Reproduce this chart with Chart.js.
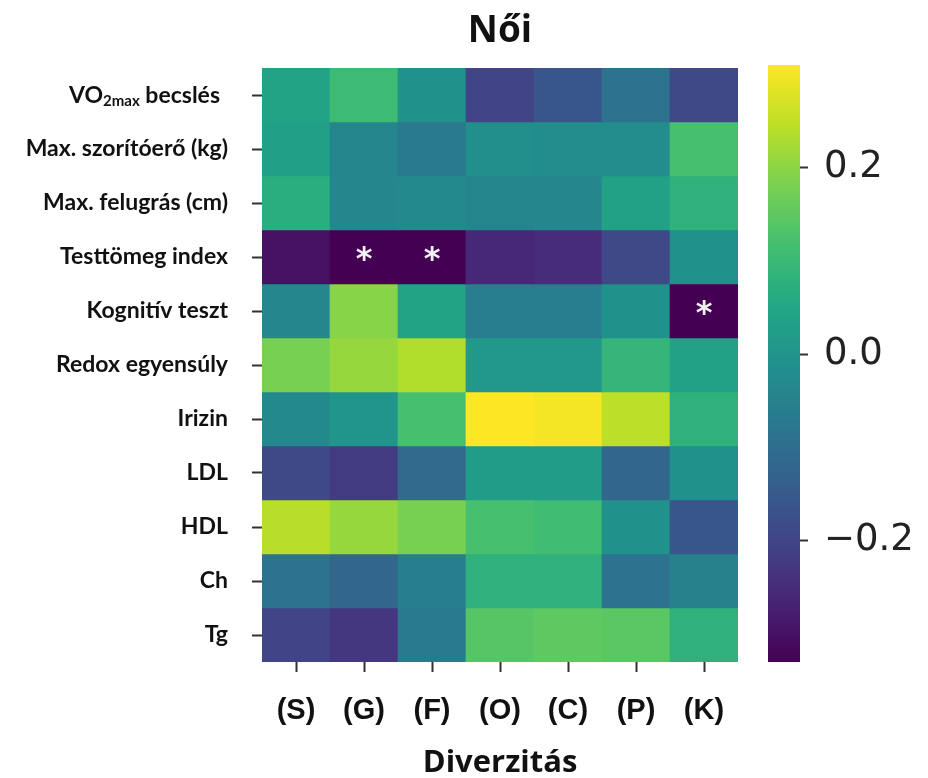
<!DOCTYPE html>
<html>
<head>
<meta charset="utf-8">
<script src="https://cdn.jsdelivr.net/npm/chart.js@4.4.1/dist/chart.umd.min.js"></script>
<style>
  html, body { margin: 0; padding: 0; background: #fff; overflow: hidden; }
  #wrap { position: relative; width: 928px; height: 778px; overflow: hidden; }
  #heat-box { position: absolute; left: 0; top: 0; width: 752px; height: 786px; }
  #bar-box { position: absolute; left: 755px; top: 0; width: 173px; height: 778px; }
</style>
</head>
<body>
<div id="wrap">
  <div id="heat-box"><canvas id="heat"></canvas></div>
  <div id="bar-box"><canvas id="cbar"></canvas></div>
</div>
<script>
const columns = ["(S)", "(G)", "(F)", "(O)", "(C)", "(P)", "(K)"];
const rows = ["VO2max becslés", "Max. szorítóerő (kg)", "Max. felugrás (cm)", "Testtömeg index",
  "Kognitív teszt", "Redox egyensúly", "Irizin", "LDL", "HDL", "Ch", "Tg"];

// correlation values, one array per row, columns S G F O C P K
const vo2max    = [0.04, 0.105, -0.01, -0.20, -0.16, -0.09, -0.19];
const szorito   = [0.03, -0.04, -0.07, -0.016, -0.02, -0.02, 0.12];
const felugras  = [0.07, -0.035, -0.03, -0.04, -0.035, 0.035, 0.08];
const bmi       = [-0.30, -0.33, -0.33, -0.26, -0.25, -0.19, -0.01];
const kognitiv  = [-0.035, 0.195, 0.04, -0.06, -0.06, -0.01, -0.33];
const redox     = [0.18, 0.21, 0.235, 0.01, 0.01, 0.09, 0.035];
const irizin    = [-0.03, 0.0, 0.12, 0.31, 0.30, 0.245, 0.08];
const ldl       = [-0.19, -0.22, -0.11, 0.02, 0.02, -0.12, -0.01];
const hdl       = [0.24, 0.21, 0.18, 0.12, 0.11, -0.01, -0.16];
const ch        = [-0.09, -0.12, -0.055, 0.08, 0.08, -0.09, -0.05];
const tg        = [-0.20, -0.23, -0.07, 0.14, 0.15, 0.145, 0.08];
const values = [vo2max, szorito, felugras, bmi, kognitiv, redox, irizin, ldl, hdl, ch, tg];

// significant cells: [row, column]
const significant = [[3, 1], [3, 2], [4, 6]];

const vmin = -0.33;
const vmax = 0.31;
const colorTicks = [-0.2, 0.0, 0.2];

const viridis = ["#440154", "#482475", "#414487", "#355f8d", "#2a788e", "#21918c",
  "#22a884", "#44bf70", "#7ad151", "#bddf26", "#fde725"];

function hexRgb(h) {
  return [parseInt(h.slice(1, 3), 16), parseInt(h.slice(3, 5), 16), parseInt(h.slice(5, 7), 16)];
}

function colorFor(v) {
  let t = (v - vmin) / (vmax - vmin);
  t = Math.max(0, Math.min(1, t));
  const pos = t * (viridis.length - 1);
  const i = Math.min(Math.floor(pos), viridis.length - 2);
  const f = pos - i;
  const a = hexRgb(viridis[i]), b = hexRgb(viridis[i + 1]);
  const c = a.map((x, k) => Math.round(x + (b[k] - x) * f));
  return `rgb(${c[0]},${c[1]},${c[2]})`;
}

const labelFont = { family: "Lato", weight: "bold", size: 23 };

// title above the heatmap + VO2max label with subscript + stars
const heatExtras = {
  id: "heatExtras",
  afterDraw(chart) {
    const ctx = chart.ctx;
    const area = chart.chartArea;
    ctx.save();
    ctx.fillStyle = "#111";
    ctx.textAlign = "center";
    ctx.textBaseline = "middle";
    ctx.font = "bold 37px 'Open Sans'";
    ctx.fillText("Női", (area.left + area.right) / 2, 31);

    // first row label with subscript
    const y = chart.scales.y;
    const yPix = y.getPixelForValue(0.5);
    const xRight = y.right - 10 - 24;
    const big = "bold 23px Lato";
    const small = "bold 15px Lato";
    ctx.textAlign = "left";
    ctx.textBaseline = "alphabetic";
    ctx.font = big;
    const w1 = ctx.measureText("VO").width;
    const w3 = ctx.measureText(" becslés").width;
    ctx.font = small;
    const w2 = ctx.measureText("2max").width;
    let x = xRight - (w1 + w2 + w3 + 8);
    const base = yPix + 8;
    ctx.font = big;
    ctx.fillText("VO", x, base);
    ctx.font = small;
    ctx.fillText("2max", x + w1, base + 3);
    ctx.font = big;
    ctx.fillText(" becslés", x + w1 + w2, base);

    // significance stars
    ctx.fillStyle = "#f0f0f0";
    ctx.textAlign = "center";
    ctx.textBaseline = "middle";
    ctx.font = "bold 32px 'DejaVu Sans'";
    significant.forEach(([r, c]) => {
      const bar = chart.getDatasetMeta(r).data[c];
      const p = bar.getCenterPoint();
      ctx.fillText("*", p.x, p.y + 4);
    });
    ctx.restore();
  }
};

new Chart(document.getElementById("heat"), {
  type: "bar",
  data: {
    labels: columns,
    datasets: rows.map((name, r) => ({
      label: name,
      data: columns.map(() => 1),
      backgroundColor: values[r].map(colorFor),
      borderWidth: 0,
      barPercentage: 1,
      categoryPercentage: 1
    }))
  },
  options: {
    responsive: true,
    maintainAspectRatio: false,
    animation: false,
    layout: { padding: { top: 68, right: 14, left: 0, bottom: 0 } },
    plugins: { legend: { display: false }, tooltip: { enabled: false }, title: { display: false } },
    scales: {
      x: {
        stacked: true,
        grid: { drawOnChartArea: false, offset: false, tickLength: 10, color: "#333", tickWidth: 2 },
        border: { display: false },
        ticks: { color: "#111", font: { family: "Liberation Sans", weight: "bold", size: 29 }, padding: 22 },
        title: { display: true, text: "Diverzitás", color: "#111",
          font: { family: "Open Sans", weight: "bold", size: 31 }, padding: { top: 16 } },
        afterFit(scale) { scale.height = 124; }
      },
      y: {
        stacked: true,
        reverse: true,
        min: 0,
        max: rows.length,
        grid: { drawOnChartArea: false, tickLength: 10, color: "#333", tickWidth: 2 },
        border: { display: false },
        afterBuildTicks(scale) { scale.ticks = rows.map((_, i) => ({ value: i + 0.5 })); },
        ticks: {
          autoSkip: false,
          color: "#111",
          font: labelFont,
          padding: 24,
          callback: (v) => { const i = Math.floor(v); return i === 0 ? "" : rows[i]; }
        },
        afterFit(scale) { scale.width = 262; }
      }
    }
  },
  plugins: [heatExtras]
});

// colour bar
new Chart(document.getElementById("cbar"), {
  type: "bar",
  data: {
    labels: [""],
    datasets: [{
      data: [[vmin, vmax]],
      borderWidth: 0,
      barPercentage: 1,
      categoryPercentage: 1,
      backgroundColor(ctx) {
        const area = ctx.chart.chartArea;
        if (!area) return viridis[5];
        const yScale = ctx.chart.scales.y;
        const g = ctx.chart.ctx.createLinearGradient(0, yScale.getPixelForValue(vmin), 0, yScale.getPixelForValue(vmax));
        viridis.forEach((c, i) => g.addColorStop(i / (viridis.length - 1), c));
        return g;
      }
    }]
  },
  options: {
    responsive: true,
    maintainAspectRatio: false,
    animation: false,
    layout: { padding: { top: 65, left: 13, bottom: 116, right: 0 } },
    plugins: { legend: { display: false }, tooltip: { enabled: false } },
    scales: {
      x: { display: false },
      y: {
        position: "right",
        min: vmin,
        max: vmax,
        grid: { drawOnChartArea: false, tickLength: 8, color: "#333", tickWidth: 2 },
        border: { display: false },
        afterBuildTicks(scale) { scale.ticks = colorTicks.map(v => ({ value: v })); },
        ticks: {
          color: "#222",
          padding: 16,
          font: { family: "DejaVu Sans", size: 37 },
          callback: (v) => (v < 0 ? "\u2212" : "") + Math.abs(v).toFixed(1)
        },
        afterFit(scale) { scale.width = 128; }
      }
    }
  }
});
</script>
</body>
</html>
